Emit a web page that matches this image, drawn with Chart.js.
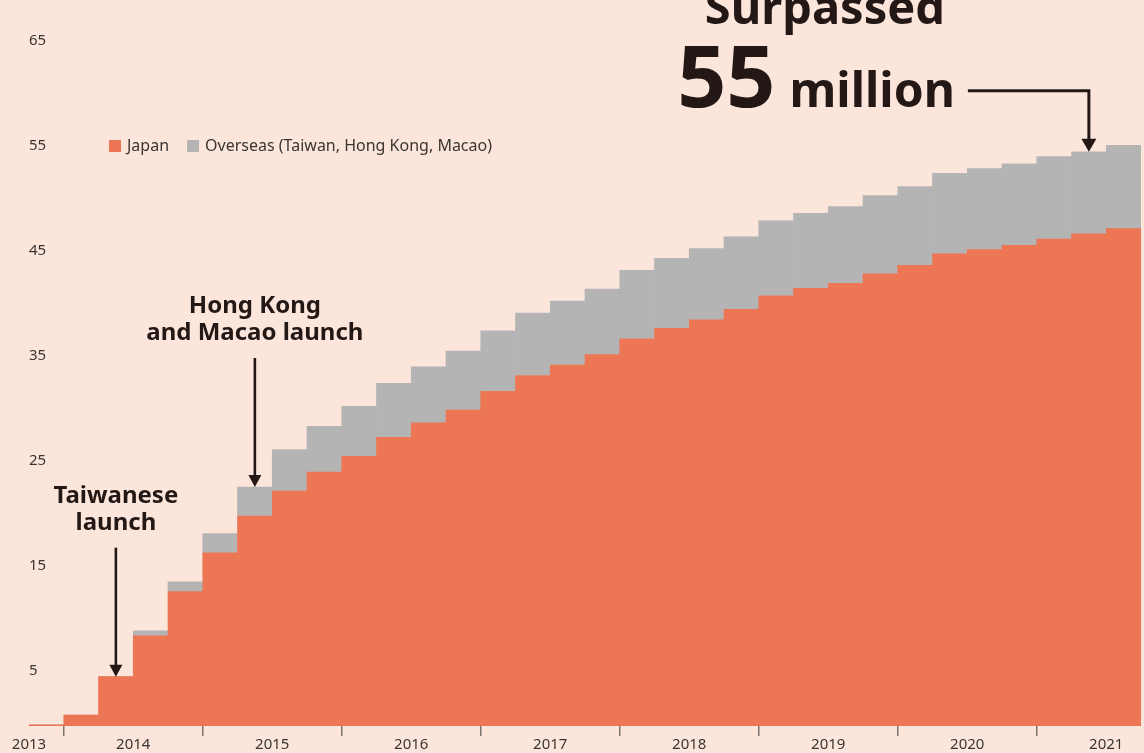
<!DOCTYPE html>
<html>
<head>
<meta charset="utf-8">
<script src="https://cdn.jsdelivr.net/npm/chart.js@4.4.1/dist/chart.umd.min.js"></script>
<style>
  html, body { margin: 0; padding: 0; background: #fce6dc; }
  canvas { display: block; }
</style>
</head>
<body>
<canvas id="chart" width="1144" height="753"></canvas>
<script>
// Cumulative users at each quarter end, in millions
const quarters = [
  '2013 Q4',
  '2014 Q1', '2014 Q2', '2014 Q3', '2014 Q4',
  '2015 Q1', '2015 Q2', '2015 Q3', '2015 Q4',
  '2016 Q1', '2016 Q2', '2016 Q3', '2016 Q4',
  '2017 Q1', '2017 Q2', '2017 Q3', '2017 Q4',
  '2018 Q1', '2018 Q2', '2018 Q3', '2018 Q4',
  '2019 Q1', '2019 Q2', '2019 Q3', '2019 Q4',
  '2020 Q1', '2020 Q2', '2020 Q3', '2020 Q4',
  '2021 Q1', '2021 Q2', '2021 Q3'
];
const japan = [
  0.1,
  1.05, 4.7, 8.6, 12.8,
  16.5, 20.0, 22.4, 24.2,
  25.7, 27.5, 28.9, 30.1,
  31.9, 33.4, 34.4, 35.4,
  36.9, 37.9, 38.7, 39.7,
  41.0, 41.7, 42.2, 43.1,
  43.9, 45.0, 45.4, 45.8,
  46.4, 46.9, 47.4
];
const overseas = [
  0,
  0, 0, 0.48, 0.93,
  1.85, 2.78, 3.94, 4.36,
  4.76, 5.15, 5.32, 5.62,
  5.75, 5.95, 6.1, 6.25,
  6.53, 6.68, 6.8, 6.92,
  7.14, 7.17, 7.3, 7.45,
  7.52, 7.67, 7.72, 7.77,
  7.87, 7.82, 7.95
];
const yearLabels = ['2013', '2014', '2015', '2016', '2017', '2018', '2019', '2020', '2021'];
const yTickValues = [5, 15, 25, 35, 45, 55, 65];
const seriesNames = ['Japan', 'Overseas (Taiwan, Hong Kong, Macao)'];

// Callouts: the quarter each arrow points at, and its text
const taiwanCallout = { quarter: '2014 Q2', lines: ['Taiwanese', 'launch'] };
const hkCallout = { quarter: '2015 Q2', lines: ['Hong Kong', 'and Macao launch'] };
const milestoneCallout = { quarter: '2021 Q2', lines: ['Surpassed', '55', 'million'] };

const ORANGE = '#ed7655';
const GREY = '#b4b4b4';
const INK = '#231815';
const AXIS_TEXT = '#3a3533';
const BG = '#fce6dc';

// Position each quarter at its centre on a year axis
const quarterX = q => {
  const [yr, qn] = q.split(' Q');
  return Number(yr) + (Number(qn) - 0.5) / 4;
};
const xs = quarters.map(quarterX);
const xMin = quarterX(quarters[0]) - 0.125;
const xMax = quarterX(quarters[quarters.length - 1]) + 0.125;

// Year labels sit mid-year (the first one at the left edge); ticks mark year starts
const labelPositions = yearLabels.map((y, i) => (i === 0 ? xMin : Number(y) + 0.5));
const boundaryPositions = yearLabels.slice(1).map(Number);
const xTickValues = [...labelPositions, ...boundaryPositions].sort((a, b) => a - b);

const background = {
  id: 'background',
  beforeDraw(chart) {
    const c = chart.ctx;
    c.save();
    c.fillStyle = BG;
    c.fillRect(0, 0, chart.width, chart.height);
    c.restore();
  }
};

function arrowHead(c, x, tipY, w, h) {
  c.beginPath();
  c.moveTo(x, tipY);
  c.lineTo(x - w / 2, tipY - h);
  c.lineTo(x + w / 2, tipY - h);
  c.closePath();
  c.fill();
}

const callouts = {
  id: 'callouts',
  afterDraw(chart) {
    const c = chart.ctx;
    const xs_ = chart.scales.x, ys_ = chart.scales.y;
    const topOf = q => {
      const i = quarters.indexOf(q);
      return { x: xs_.getPixelForValue(quarterX(q)), y: ys_.getPixelForValue(japan[i] + overseas[i]) };
    };
    c.save();
    c.fillStyle = INK;
    c.strokeStyle = INK;

    // Legend
    c.font = '16px "Noto Sans"';
    c.textBaseline = 'middle';
    c.textAlign = 'left';
    let lx = 109;
    const ly = 146;
    chart.data.datasets.forEach(ds => {
      c.fillStyle = ds.backgroundColor;
      c.fillRect(lx, ly - 6, 12, 12);
      c.fillStyle = AXIS_TEXT;
      c.fillText(ds.label, lx + 18, ly);
      lx += 18 + c.measureText(ds.label).width + 18;
    });
    c.fillStyle = INK;

    // Launch callouts: two centred lines and a down arrow
    [taiwanCallout, hkCallout].forEach(n => {
      const p = topOf(n.quarter);
      c.font = 'bold 24px "Noto Sans"';
      c.textAlign = 'center';
      c.textBaseline = 'alphabetic';
      c.fillText(n.lines[0], p.x, p.y - 174);
      c.fillText(n.lines[1], p.x, p.y - 147);
      c.lineWidth = 2.6;
      c.beginPath();
      c.moveTo(p.x, p.y - 129);
      c.lineTo(p.x, p.y - 10);
      c.stroke();
      arrowHead(c, p.x, p.y, 13, 12);
    });

    // Milestone callout with elbow arrow
    const m = topOf(milestoneCallout.quarter);
    const elbowY = m.y - 61;
    const startX = m.x - 121;
    c.lineWidth = 3;
    c.beginPath();
    c.moveTo(startX, elbowY);
    c.lineTo(m.x, elbowY);
    c.lineTo(m.x, m.y - 11);
    c.stroke();
    arrowHead(c, m.x, m.y, 15, 13);

    c.textBaseline = 'alphabetic';
    c.textAlign = 'right';
    const baseY = elbowY + 16;
    c.font = 'bold 48px "Noto Sans"';
    const millionRight = startX - 13;
    c.fillText(milestoneCallout.lines[2], millionRight, baseY);
    const millionW = c.measureText(milestoneCallout.lines[2]).width;
    c.font = 'bold 86px "Noto Sans"';
    c.fillText(milestoneCallout.lines[1], millionRight - millionW - 14, baseY);
    c.font = 'bold 47px "Noto Sans"';
    c.textAlign = 'center';
    c.fillText(milestoneCallout.lines[0], millionRight - 130, baseY - 83);
    c.restore();
  }
};

// Keep the plot area exactly where the padding puts it
const noOverhang = s => { s.paddingLeft = 0; s.paddingRight = 0; s.paddingTop = 0; s.paddingBottom = 0; };

new Chart(document.getElementById('chart'), {
  type: 'bar',
  data: {
    datasets: [
      {
        label: seriesNames[0],
        data: xs.map((x, i) => ({ x, y: japan[i] })),
        backgroundColor: ORANGE
      },
      {
        label: seriesNames[1],
        data: xs.map((x, i) => ({ x, y: overseas[i] })),
        backgroundColor: GREY
      }
    ]
  },
  options: {
    responsive: false,
    animation: false,
    events: [],
    layout: { padding: { left: 29, right: 3, top: 2, bottom: 0 } },
    datasets: {
      bar: { barPercentage: 1, categoryPercentage: 1, borderWidth: 0, borderSkipped: false }
    },
    plugins: { legend: { display: false }, tooltip: { enabled: false } },
    scales: {
      x: {
        type: 'linear',
        stacked: true,
        min: xMin,
        max: xMax,
        offset: false,
        afterBuildTicks: s => { s.ticks = xTickValues.map(v => ({ value: v })); },
        afterFit: s => { noOverhang(s); s.height = 27; },
        ticks: {
          autoSkip: false,
          maxRotation: 0,
          padding: 0,
          color: AXIS_TEXT,
          font: { family: 'Noto Sans', size: 15, lineHeight: 1.1 },
          callback: v => {
            const i = labelPositions.findIndex(p => Math.abs(p - v) < 1e-6);
            return i >= 0 ? yearLabels[i] : '';
          }
        },
        grid: {
          offset: false,
          drawOnChartArea: false,
          drawTicks: true,
          tickLength: 10,
          lineWidth: 1.5,
          color: ctx => (ctx.tick && boundaryPositions.some(b => Math.abs(b - ctx.tick.value) < 1e-6))
            ? '#7a7370' : 'rgba(0,0,0,0)'
        },
        border: { display: false }
      },
      y: {
        type: 'linear',
        stacked: true,
        min: 0,
        max: 69,
        afterBuildTicks: s => { s.ticks = yTickValues.map(v => ({ value: v })); },
        afterFit: s => { noOverhang(s); s.width = 0; },
        ticks: {
          mirror: true,
          padding: 0,
          labelOffset: -3,
          color: AXIS_TEXT,
          font: { family: 'Noto Sans', size: 15 }
        },
        grid: { display: false, drawTicks: false, tickLength: 0 },
        border: { display: false }
      }
    }
  },
  plugins: [background, callouts]
});
</script>
</body>
</html>
